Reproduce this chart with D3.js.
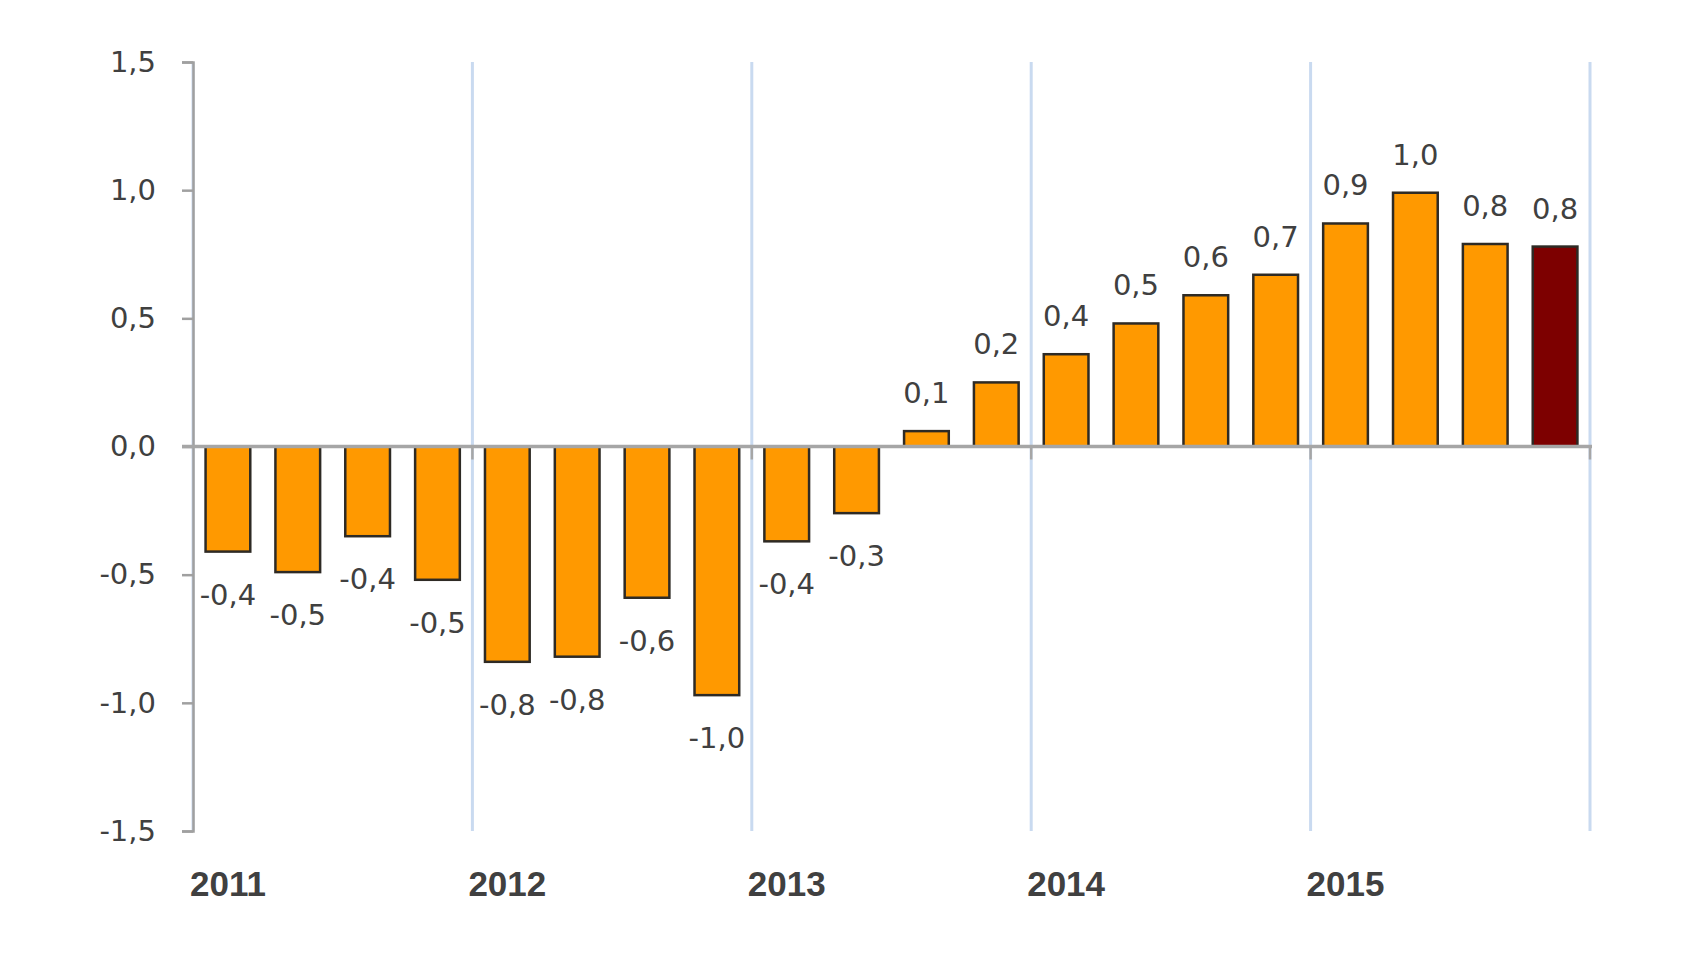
<!DOCTYPE html>
<html lang="en">
<head>
<meta charset="utf-8">
<script src="https://d3js.org/d3.v7.min.js"></script>
<style type="text/css">
body {
	margin: 0;
	background-color: white;
}
</style>
</head>
<body>
<svg id="chart"></svg>
<script type="text/javascript">

// quarterly values, 2011 Q1 .. 2015 Q4
var quarters = ["2011Q1","2011Q2","2011Q3","2011Q4","2012Q1","2012Q2","2012Q3","2012Q4",
                "2013Q1","2013Q2","2013Q3","2013Q4","2014Q1","2014Q2","2014Q3","2014Q4",
                "2015Q1","2015Q2","2015Q3","2015Q4"];
var values = [-0.41, -0.49, -0.35, -0.52, -0.84, -0.82, -0.59, -0.97,
              -0.37, -0.26, 0.06, 0.25, 0.36, 0.48, 0.59, 0.67,
              0.87, 0.99, 0.79, 0.78];
var labels = ["-0,4","-0,5","-0,4","-0,5","-0,8","-0,8","-0,6","-1,0",
              "-0,4","-0,3","0,1","0,2","0,4","0,5","0,6","0,7",
              "0,9","1,0","0,8","0,8"];
var years = ["2011","2012","2013","2014","2015"];
var yTicks = [1.5, 1.0, 0.5, 0.0, -0.5, -1.0, -1.5];

var width = 1706, height = 960;
var mLeft = 193, mRight = 1590, mTop = 62, mBottom = 831;

var svg = d3.select("#chart")
	.attr("width", width)
	.attr("height", height);

var x = d3.scaleBand()
	.domain(quarters)
	.range([mLeft, mRight])
	.paddingInner(0.36)
	.paddingOuter(0.18);

var y = d3.scaleLinear()
	.domain([-1.5, 1.5])
	.range([mBottom, mTop]);

var yearStart = function(i) { return mLeft + i * 4 * (mRight - mLeft) / 20; };

// light blue year separators
svg.selectAll("line.grid")
	.data(d3.range(years.length + 1))
	.join("line")
	.attr("class", "grid")
	.attr("x1", function(i) { return yearStart(i); })
	.attr("x2", function(i) { return yearStart(i); })
	.attr("y1", mTop)
	.attr("y2", mBottom)
	.style("stroke", "#c9daf0")
	.style("stroke-width", 3);

// y axis
var yAxis = d3.axisLeft(y)
	.tickValues(yTicks)
	.tickSize(11)
	.tickPadding(26)
	.tickFormat(function(d) { return d3.format(".1f")(d).replace(".", ",").replace("−", "-"); });

var gy = svg.append("g")
	.attr("transform", "translate(" + mLeft + ",0)")
	.call(yAxis);
gy.select(".domain").style("stroke", "#a0a0a0").style("stroke-width", 2.5);
gy.selectAll(".tick line").style("stroke", "#a0a0a0").style("stroke-width", 2.5);
gy.selectAll(".tick text")
	.style("font-family", "'DejaVu Sans', Verdana, sans-serif")
	.style("font-size", "29px")
	.style("fill", "#404040");

// bars
svg.selectAll("rect.bar")
	.data(values)
	.join("rect")
	.attr("class", "bar")
	.attr("x", function(d, i) { return x(quarters[i]); })
	.attr("width", x.bandwidth())
	.attr("y", function(d) { return y(Math.max(0, d)); })
	.attr("height", function(d) { return Math.abs(y(d) - y(0)); })
	.style("fill", function(d, i) { return i == values.length - 1 ? "#7d0000" : "#ff9900"; })
	.style("stroke", "#2e2a24")
	.style("stroke-width", 2.5);

// zero line
svg.append("line")
	.attr("x1", mLeft - 11)
	.attr("x2", mRight + 2)
	.attr("y1", y(0))
	.attr("y2", y(0))
	.style("stroke", "#a6a6a6")
	.style("stroke-width", 3.5);

// small ticks at year boundaries
svg.selectAll("line.ytick")
	.data(d3.range(1, years.length + 1))
	.join("line")
	.attr("class", "ytick")
	.attr("x1", function(i) { return yearStart(i); })
	.attr("x2", function(i) { return yearStart(i); })
	.attr("y1", y(0))
	.attr("y2", y(0) + 13)
	.style("stroke", "#a6a6a6")
	.style("stroke-width", 2.5);

// value labels
svg.selectAll("text.val")
	.data(values)
	.join("text")
	.attr("class", "val")
	.attr("x", function(d, i) { return x(quarters[i]) + x.bandwidth() / 2; })
	.attr("y", function(d) { return d >= 0 ? y(d) - 28 : y(d) + 53; })
	.attr("text-anchor", "middle")
	.style("font-family", "'DejaVu Sans', Verdana, sans-serif")
	.style("font-size", "29px")
	.style("fill", "#404040")
	.text(function(d, i) { return labels[i]; });

// year labels under the first quarter of each year
svg.selectAll("text.year")
	.data(years)
	.join("text")
	.attr("class", "year")
	.attr("x", function(d, i) { return x(quarters[i * 4]) + x.bandwidth() / 2; })
	.attr("y", 896)
	.attr("text-anchor", "middle")
	.style("font-family", "'Liberation Sans', Arial, sans-serif")
	.style("font-weight", "bold")
	.style("font-size", "35px")
	.style("fill", "#404040")
	.text(function(d) { return d; });

</script>
</body>
</html>
